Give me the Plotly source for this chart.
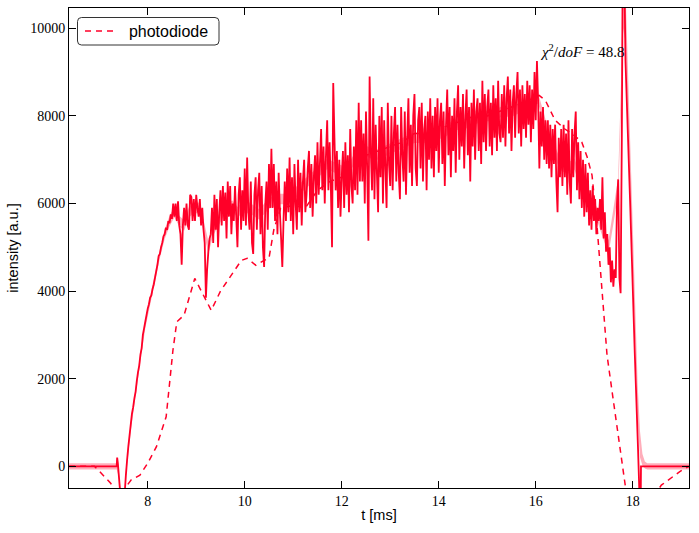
import numpy as np
import plotly.graph_objects as go

RED = "#ff0028"
BAND = "rgba(255,0,40,0.32)"

# ---------------- measured signal (solid red line) ----------------
head_t = [6.38, 7.36, 7.37, 7.385, 7.40, 7.44, 7.52]
head_v = [0, 0, 200, 60, -150, -700, -700]

block_t0 = 7.55
block_dt = 0.025
block_v = [
    -200, 150, 450, 700, 950, 1200, 1350, 1550, 1700, 1950,
    2150, 2300, 2550, 2700, 3000, 3150, 3300, 3450, 3600, 3700,
    3850, 3900, 4050, 4150, 4300, 4450, 4600, 4800, 4850, 5000,
    5100, 5250, 5300, 5450, 5400, 5600, 5550, 5750, 5650, 6000,
    5700, 6000, 5600, 6050, 5500, 5300, 4600, 5500, 5900, 5500,
    6000, 5500, 5400, 6200, 6150, 5600, 6100, 5600, 6200, 5900,
    5700, 6100, 5500, 5900, 5400, 5100, 3850, 4500, 4900, 5200,
    5300, 5900, 5100, 6200, 5400, 6100, 5000, 5800, 6300, 5500,
    6400, 5600, 6250, 5200, 6500, 5700, 6400, 5300, 6000, 5600,
    6400, 5700, 5000, 6200, 6600, 5400, 6300, 5600, 6800, 5500,
    7050, 5800, 5400, 6500, 5100, 4850, 6200, 6600, 5400, 6300,
    6700, 5300, 6400, 5000, 4550, 6000, 6500, 5400, 6900, 5900,
    7250, 5900, 6900, 5600, 6500, 5300, 6700, 5800, 5200, 4550,
    5600, 6500, 5600, 6800, 5800, 7050, 5600, 6600, 5300, 6900,
    6000, 5400, 7000, 5800, 6700, 5500, 6500, 7000, 5800, 6200,
    6800, 7200, 5900, 6900, 5700, 6600, 7100, 6000, 7400, 6200,
    6900, 7700, 6300, 7300, 6000, 7100, 7900, 6300, 7400, 6400,
    5000, 8750, 7500, 6300, 7200, 5900, 7000, 5700, 6600, 7200,
    5900, 7400, 6200, 7100, 5800, 7700, 6400, 6000, 7300, 6300,
    7900, 6200, 8300, 6500, 7900, 6500, 7600, 6000, 8100, 6800,
    5150, 8900, 7200, 6300, 8400, 6100, 7800, 6700, 5800, 8000,
    6600, 8200, 6000, 7900, 6800, 5900, 8300, 6900, 6400, 8000,
    6300, 7600, 8200, 6500, 7800, 6700, 6100, 8200, 7100, 6500,
    8100, 6200, 7500, 8400, 6700, 7800, 6400, 8000, 8500, 6800,
    6400, 7900, 8200, 6800, 8300, 6500, 7700, 8000, 6300, 8100,
    7000, 8400, 6800, 8000, 6600, 8200, 7200, 8400, 6700, 7900,
    8300, 6900, 8100, 6400, 7800, 8600, 7100, 8200, 6600, 8000,
    7200, 8400, 6700, 8100, 8700, 7000, 8200, 7300, 8500, 6800,
    8000, 8600, 7100, 8200, 6500, 8300, 7300, 8600, 7000, 8100,
    8400, 7200, 8300, 6900, 8800, 7400, 8500, 7200, 8200, 8600,
    7300, 8300, 7100, 8700, 7500, 8400, 7200, 8800, 7600, 7400,
    8500, 7500, 8700, 7300, 8400, 8900, 7600, 8600, 7200, 8300,
    8700, 7500, 8500, 9000, 7600, 8600, 7300, 8700, 7700, 8500,
    7500, 8800, 7800, 8700, 7400, 8600, 7700, 9000, 7900, 9250,
    8300, 6800, 8100, 7300, 8200, 7000, 7900, 6900, 7900, 6800,
    7800, 6600, 7700, 6900, 7800, 6500, 5800, 7500, 6600, 7700,
    6400, 7800, 6600, 7600, 6200, 7900, 6500, 6000, 7700, 6600,
    7600, 8100, 6300, 7400, 6100, 7200, 5900, 7000, 5700, 6900,
    5800, 6700, 5500, 6300, 5400, 6400, 5600, 6100, 5300, 5900,
    5600, 6100, 5400, 6600, 5200, 5800, 4900, 5300, 4600, 5000,
    4200, 4700, 4100, 4500, 4300, 6000, 6550, 4300, 3950, 7500,
]

tail_t = [17.79, 17.805, 17.82, 17.835, 17.85, 17.95, 18.04, 18.11, 18.14, 18.165, 18.17, 19.16]
tail_v = [10800, 11000, 11000, 10600, 9270, 5900, 2650, 370, -700, -700, 0, 0]

block_t = list(block_t0 + block_dt * np.arange(len(block_v)))
sig_t = head_t + block_t + tail_t
sig_v = head_v + block_v + tail_v

# ---------------- smoothed band (centre +/- error) ----------------
band_t = [6.38, 7.36, 7.40, 7.45, 7.52, 7.55, 7.65, 7.75, 7.85, 7.95, 8.05, 8.15, 8.25,
          8.35, 8.45, 8.55, 8.65, 8.75, 8.85, 8.95, 9.05, 9.15, 9.25, 9.35, 9.45,
          9.55, 9.65, 9.75, 9.85, 9.95, 10.1, 10.3, 10.5, 10.7, 10.9, 11.1, 11.3,
          11.5, 11.7, 11.9, 12.1, 12.3, 12.5, 12.7, 12.9, 13.1, 13.3, 13.5, 13.7,
          13.9, 14.1, 14.3, 14.5, 14.7, 14.9, 15.1, 15.3, 15.5, 15.7, 15.9, 16.05,
          16.2, 16.35, 16.5, 16.65, 16.8, 16.95, 17.1, 17.25, 17.4, 17.5, 17.6,
          17.7, 17.76, 17.8, 17.85, 17.95, 18.05, 18.1, 18.15, 18.2, 18.25, 18.3, 19.16]
band_c = [0, 0, -150, -700, -700, -150, 900, 1750, 2500, 3250, 3800, 4300, 4850,
          5300, 5600, 5800, 5600, 5500, 5800, 5900, 5900, 5500, 5000, 5400, 5600,
          5800, 5900, 5950, 5800, 5900, 5900, 5750, 6000, 6100, 6100, 6300, 6500,
          6700, 6900, 6800, 6700, 7100, 7200, 7100, 7200, 7300, 7400, 7500, 7500,
          7600, 7600, 7800, 7800, 7900, 8000, 8000, 8100, 8100, 8200, 8300, 8400,
          7800, 7300, 6900, 6800, 6900, 6400, 6000, 5800, 5300, 5000, 5700,
          6400, 8500, 10600, 10300, 6600, 3200, 1500, 500, 150, 30, 0, 0]
band_e = [70, 70, 80, 80, 80, 90, 100, 100, 100, 100, 100, 100, 100,
          110, 120, 120, 120, 120, 120, 120, 120, 130, 140, 130, 120,
          120, 120, 120, 120, 120, 120, 120, 120, 120, 120, 120, 120,
          120, 120, 120, 120, 120, 120, 120, 120, 120, 120, 120, 120,
          120, 120, 120, 120, 120, 120, 120, 120, 120, 120, 120, 120,
          130, 130, 130, 130, 130, 130, 130, 140, 150, 160, 170,
          200, 300, 600, 600, 500, 400, 400, 300, 130, 80, 70, 70]

band_lo = list(np.array(band_c) - np.array(band_e))
band_hi = list(np.array(band_c) + np.array(band_e))

# ---------------- photodiode (dashed) ----------------
pd_t = [6.38, 6.90, 6.98, 7.10, 7.24, 7.30, 7.40, 7.50, 7.53, 7.66, 7.84, 8.00, 8.18,
        8.38, 8.52, 8.60, 8.75, 8.97, 9.21, 9.31, 9.50, 9.69, 9.93, 10.05, 10.23,
        10.40, 10.50, 10.60, 10.74, 11.00, 11.25, 11.50, 11.75, 12.00, 12.25, 12.50,
        12.75, 13.00, 13.25, 13.50, 13.75, 14.00, 14.25, 14.50, 14.75, 15.00, 15.25,
        15.50, 15.75, 16.07, 16.20, 16.40, 16.60, 16.80, 16.95, 17.06, 17.16, 17.26,
        17.33, 17.40, 17.47, 17.58, 17.68, 17.78, 17.85, 17.95, 18.30, 18.59, 18.97, 19.16]
pd_v = [0, 0, -85, -230, -390, -560, -800, -600, -500, -310, -200, 70, 450,
        1130, 2650, 3300, 3450, 4290, 3750, 3560, 4000, 4320, 4700, 4750, 4590,
        4700, 4750, 5400, 5890, 5960, 5900, 6300, 6500, 6600, 6900, 7100,
        7200, 7300, 7400, 7600, 7600, 7700, 7800, 7900, 8000, 8000, 8100,
        8200, 8300, 8470, 8350, 7900, 7700, 7550, 7400, 7060, 6650, 5540,
        4550, 3640, 2540, 1660, 900, 140, -470, -900, -900, -430, -120, 0]

x_ticks = [8, 10, 12, 14, 16, 18]
y_ticks = [0, 2000, 4000, 6000, 8000, 10000]

fig = go.Figure()
fig.add_trace(go.Scatter(x=band_t, y=band_lo, mode="lines", line=dict(width=0, color=BAND),
                         showlegend=False, hoverinfo="skip"))
fig.add_trace(go.Scatter(x=band_t, y=band_hi, mode="lines", line=dict(width=0, color=BAND),
                         fill="tonexty", fillcolor=BAND, showlegend=False, hoverinfo="skip"))
fig.add_trace(go.Scatter(x=sig_t, y=sig_v, mode="lines", line=dict(color=RED, width=1.8, simplify=False),
                         showlegend=False, name="data"))
fig.add_trace(go.Scatter(x=pd_t, y=pd_v, mode="lines", line=dict(color=RED, width=1.5, dash="6px,5px"),
                         name="\u00a0\u00a0photodiode"))

L, R, T, B = 69, 10, 8, 45
W, H = 699, 533
pw, ph = W - L - R, H - T - B

def px(x):
    return (x - L) / pw

def py(y):
    return 1 - (y - T) / ph

# rounded legend frame
x0, x1, y0, y1 = px(77.5), px(219), py(17.5), py(45)
rx, ry = 4 / pw, 4 / ph
path = (f"M {x0+rx},{y0} L {x1-rx},{y0} Q {x1},{y0} {x1},{y0-ry} "
        f"L {x1},{y1+ry} Q {x1},{y1} {x1-rx},{y1} L {x0+rx},{y1} Q {x0},{y1} {x0},{y1+ry} "
        f"L {x0},{y0-ry} Q {x0},{y0} {x0+rx},{y0} Z")
fig.add_shape(type="path", path=path, xref="paper", yref="paper",
              line=dict(color="#333333", width=1), fillcolor="white", layer="above")

fig.add_annotation(x=16.96, y=9480, xref="x", yref="y", showarrow=False,
                   text="<i>χ</i><sup>2</sup>/<i>doF</i> = 48.8",
                   font=dict(family="Liberation Serif, serif", size=15, color="black"),
                   xanchor="center", yanchor="middle")

axis_common = dict(showline=True, linecolor="black", linewidth=1, mirror="ticks",
                   ticks="inside", ticklen=7, tickwidth=1, tickcolor="black",
                   showgrid=False, zeroline=False,
                   tickfont=dict(family="Liberation Serif, serif", size=14, color="black"))

fig.update_layout(
    width=W, height=H,
    margin=dict(l=L, r=R, t=T, b=B),
    paper_bgcolor="white", plot_bgcolor="white",
    xaxis=dict(range=[6.377, 19.16], tickvals=x_ticks, ticktext=[str(v) for v in x_ticks],
               title=dict(text="t [ms]", font=dict(family="Liberation Sans, Arial, sans-serif", size=14.5, color="black"),
                          standoff=2),
               **axis_common),
    yaxis=dict(range=[-495, 10463], tickvals=y_ticks, ticktext=[str(v) for v in y_ticks],
               title=dict(text="intensity [a.u.]", font=dict(family="Liberation Sans, Arial, sans-serif", size=14.5, color="black"),
                          standoff=8),
               **axis_common),
    legend=dict(x=px(80), y=py(14), xanchor="left", yanchor="top",
                bgcolor="rgba(0,0,0,0)", borderwidth=0,
                font=dict(family="Liberation Sans, Arial, sans-serif", size=16, color="black")),
    showlegend=True,
)

fig.write_html("out.html")
